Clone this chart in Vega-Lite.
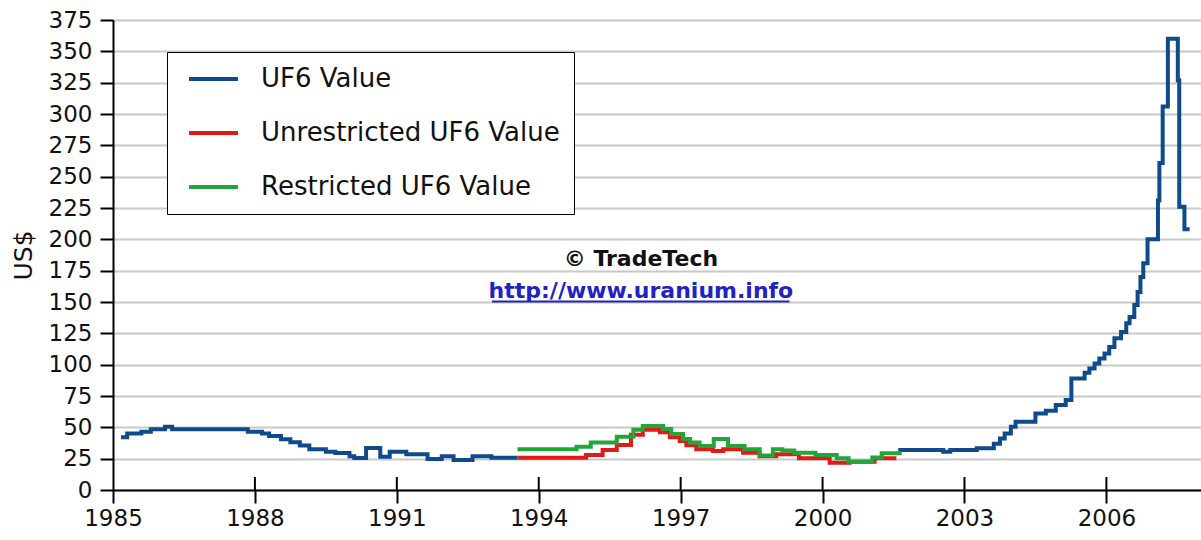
{
  "$schema": "https://vega.github.io/schema/vega-lite/v6.json",
  "width": 1088,
  "height": 470,
  "autosize": {"type": "none"},
  "padding": {"left": 113, "top": 20, "right": 0, "bottom": 50},
  "background": "white",
  "config": {
    "view": {"stroke": null},
    "font": "DejaVu Sans",
    "axisX": {
      "format": "d", "grid": false,
      "domainColor": "black", "domainWidth": 2,
      "tickColor": "black", "tickWidth": 2, "tickSize": 13,
      "labelFont": "DejaVu Sans", "labelFontSize": 23, "labelColor": "#111",
      "labelPadding": 4, "labelFlush": false, "labelOverlap": false
    },
    "axisY": {
      "format": "d",
      "titleFont": "DejaVu Sans", "titleFontSize": 25,
      "titleFontWeight": "normal", "titleColor": "#111", "titlePadding": 12,
      "grid": true, "gridColor": "#c8c8c8", "gridWidth": 2,
      "domainColor": "black", "domainWidth": 2,
      "tickColor": "black", "tickWidth": 2, "tickSize": 13,
      "labelFont": "DejaVu Sans", "labelFontSize": 23, "labelColor": "#111",
      "labelPadding": 8, "labelOverlap": false, "labelFlush": false
    }
  },
  "datasets": {
    "series": [
      {"series": "UF6 Value", "seg": 1, "year": 1985.17, "value": 42},
      {"series": "UF6 Value", "seg": 1, "year": 1985.3, "value": 45},
      {"series": "UF6 Value", "seg": 1, "year": 1985.6, "value": 46.5},
      {"series": "UF6 Value", "seg": 1, "year": 1985.8, "value": 48.5},
      {"series": "UF6 Value", "seg": 1, "year": 1986.1, "value": 50.5},
      {"series": "UF6 Value", "seg": 1, "year": 1986.25, "value": 48.5},
      {"series": "UF6 Value", "seg": 1, "year": 1987.85, "value": 46.5},
      {"series": "UF6 Value", "seg": 1, "year": 1988.15, "value": 45},
      {"series": "UF6 Value", "seg": 1, "year": 1988.3, "value": 43},
      {"series": "UF6 Value", "seg": 1, "year": 1988.55, "value": 40.5},
      {"series": "UF6 Value", "seg": 1, "year": 1988.75, "value": 38},
      {"series": "UF6 Value", "seg": 1, "year": 1988.95, "value": 35.5},
      {"series": "UF6 Value", "seg": 1, "year": 1989.15, "value": 32.5},
      {"series": "UF6 Value", "seg": 1, "year": 1989.5, "value": 30.5},
      {"series": "UF6 Value", "seg": 1, "year": 1989.7, "value": 29.5},
      {"series": "UF6 Value", "seg": 1, "year": 1990.0, "value": 27},
      {"series": "UF6 Value", "seg": 1, "year": 1990.1, "value": 25.5},
      {"series": "UF6 Value", "seg": 1, "year": 1990.35, "value": 33.5},
      {"series": "UF6 Value", "seg": 1, "year": 1990.65, "value": 26.5},
      {"series": "UF6 Value", "seg": 1, "year": 1990.85, "value": 30.5},
      {"series": "UF6 Value", "seg": 1, "year": 1991.2, "value": 28.5},
      {"series": "UF6 Value", "seg": 1, "year": 1991.65, "value": 24.8},
      {"series": "UF6 Value", "seg": 1, "year": 1991.95, "value": 27},
      {"series": "UF6 Value", "seg": 1, "year": 1992.2, "value": 24},
      {"series": "UF6 Value", "seg": 1, "year": 1992.6, "value": 27},
      {"series": "UF6 Value", "seg": 1, "year": 1993.0, "value": 25.8},
      {"series": "UF6 Value", "seg": 1, "year": 1993.55, "value": 25.8},
      {"series": "UF6 Value", "seg": 2, "year": 2001.6, "value": 32},
      {"series": "UF6 Value", "seg": 2, "year": 2002.55, "value": 30.6},
      {"series": "UF6 Value", "seg": 2, "year": 2002.7, "value": 32},
      {"series": "UF6 Value", "seg": 2, "year": 2003.26, "value": 33.3},
      {"series": "UF6 Value", "seg": 2, "year": 2003.62, "value": 37},
      {"series": "UF6 Value", "seg": 2, "year": 2003.75, "value": 41},
      {"series": "UF6 Value", "seg": 2, "year": 2003.85, "value": 45},
      {"series": "UF6 Value", "seg": 2, "year": 2003.98, "value": 50.5},
      {"series": "UF6 Value", "seg": 2, "year": 2004.08, "value": 54.5},
      {"series": "UF6 Value", "seg": 2, "year": 2004.5, "value": 61},
      {"series": "UF6 Value", "seg": 2, "year": 2004.72, "value": 63.3},
      {"series": "UF6 Value", "seg": 2, "year": 2004.93, "value": 67.8},
      {"series": "UF6 Value", "seg": 2, "year": 2005.14, "value": 71.8},
      {"series": "UF6 Value", "seg": 2, "year": 2005.26, "value": 89},
      {"series": "UF6 Value", "seg": 2, "year": 2005.54, "value": 93.6},
      {"series": "UF6 Value", "seg": 2, "year": 2005.64, "value": 97},
      {"series": "UF6 Value", "seg": 2, "year": 2005.75, "value": 101},
      {"series": "UF6 Value", "seg": 2, "year": 2005.85, "value": 105},
      {"series": "UF6 Value", "seg": 2, "year": 2005.96, "value": 109},
      {"series": "UF6 Value", "seg": 2, "year": 2006.06, "value": 114},
      {"series": "UF6 Value", "seg": 2, "year": 2006.17, "value": 121},
      {"series": "UF6 Value", "seg": 2, "year": 2006.31, "value": 126},
      {"series": "UF6 Value", "seg": 2, "year": 2006.42, "value": 133},
      {"series": "UF6 Value", "seg": 2, "year": 2006.49, "value": 138},
      {"series": "UF6 Value", "seg": 2, "year": 2006.59, "value": 147.6},
      {"series": "UF6 Value", "seg": 2, "year": 2006.66, "value": 158},
      {"series": "UF6 Value", "seg": 2, "year": 2006.72, "value": 170},
      {"series": "UF6 Value", "seg": 2, "year": 2006.78, "value": 181},
      {"series": "UF6 Value", "seg": 2, "year": 2006.87, "value": 200},
      {"series": "UF6 Value", "seg": 2, "year": 2007.09, "value": 231},
      {"series": "UF6 Value", "seg": 2, "year": 2007.12, "value": 261},
      {"series": "UF6 Value", "seg": 2, "year": 2007.19, "value": 306},
      {"series": "UF6 Value", "seg": 2, "year": 2007.3, "value": 360},
      {"series": "UF6 Value", "seg": 2, "year": 2007.51, "value": 327},
      {"series": "UF6 Value", "seg": 2, "year": 2007.54, "value": 226},
      {"series": "UF6 Value", "seg": 2, "year": 2007.65, "value": 208},
      {"series": "UF6 Value", "seg": 2, "year": 2007.76, "value": 208},
      {"series": "Unrestricted UF6 Value", "seg": 3, "year": 1993.55, "value": 25.8},
      {"series": "Unrestricted UF6 Value", "seg": 3, "year": 1995.0, "value": 28},
      {"series": "Unrestricted UF6 Value", "seg": 3, "year": 1995.35, "value": 32},
      {"series": "Unrestricted UF6 Value", "seg": 3, "year": 1995.65, "value": 36},
      {"series": "Unrestricted UF6 Value", "seg": 3, "year": 1995.95, "value": 44},
      {"series": "Unrestricted UF6 Value", "seg": 3, "year": 1996.2, "value": 48},
      {"series": "Unrestricted UF6 Value", "seg": 3, "year": 1996.56, "value": 46},
      {"series": "Unrestricted UF6 Value", "seg": 3, "year": 1996.77, "value": 42},
      {"series": "Unrestricted UF6 Value", "seg": 3, "year": 1996.98, "value": 39},
      {"series": "Unrestricted UF6 Value", "seg": 3, "year": 1997.12, "value": 35.7},
      {"series": "Unrestricted UF6 Value", "seg": 3, "year": 1997.33, "value": 32.5},
      {"series": "Unrestricted UF6 Value", "seg": 3, "year": 1997.68, "value": 31.2},
      {"series": "Unrestricted UF6 Value", "seg": 3, "year": 1997.9, "value": 32.5},
      {"series": "Unrestricted UF6 Value", "seg": 3, "year": 1998.32, "value": 29.8},
      {"series": "Unrestricted UF6 Value", "seg": 3, "year": 1998.67, "value": 27},
      {"series": "Unrestricted UF6 Value", "seg": 3, "year": 1999.02, "value": 28.5},
      {"series": "Unrestricted UF6 Value", "seg": 3, "year": 1999.5, "value": 25.3},
      {"series": "Unrestricted UF6 Value", "seg": 3, "year": 2000.15, "value": 21.8},
      {"series": "Unrestricted UF6 Value", "seg": 3, "year": 2000.57, "value": 22.6},
      {"series": "Unrestricted UF6 Value", "seg": 3, "year": 2001.1, "value": 25.3},
      {"series": "Unrestricted UF6 Value", "seg": 3, "year": 2001.56, "value": 25.3},
      {"series": "Restricted UF6 Value", "seg": 4, "year": 1993.55, "value": 32.5},
      {"series": "Restricted UF6 Value", "seg": 4, "year": 1994.8, "value": 34.6},
      {"series": "Restricted UF6 Value", "seg": 4, "year": 1995.1, "value": 37.8},
      {"series": "Restricted UF6 Value", "seg": 4, "year": 1995.65, "value": 42.5},
      {"series": "Restricted UF6 Value", "seg": 4, "year": 1996.0, "value": 48},
      {"series": "Restricted UF6 Value", "seg": 4, "year": 1996.2, "value": 51},
      {"series": "Restricted UF6 Value", "seg": 4, "year": 1996.63, "value": 48.7},
      {"series": "Restricted UF6 Value", "seg": 4, "year": 1996.8, "value": 44.6},
      {"series": "Restricted UF6 Value", "seg": 4, "year": 1997.05, "value": 40.6},
      {"series": "Restricted UF6 Value", "seg": 4, "year": 1997.2, "value": 37.9},
      {"series": "Restricted UF6 Value", "seg": 4, "year": 1997.4, "value": 35.2},
      {"series": "Restricted UF6 Value", "seg": 4, "year": 1997.7, "value": 40.6},
      {"series": "Restricted UF6 Value", "seg": 4, "year": 1998.0, "value": 35.2},
      {"series": "Restricted UF6 Value", "seg": 4, "year": 1998.35, "value": 32.5},
      {"series": "Restricted UF6 Value", "seg": 4, "year": 1998.67, "value": 27.5},
      {"series": "Restricted UF6 Value", "seg": 4, "year": 1998.95, "value": 32.5},
      {"series": "Restricted UF6 Value", "seg": 4, "year": 1999.15, "value": 31.5},
      {"series": "Restricted UF6 Value", "seg": 4, "year": 1999.4, "value": 29.8},
      {"series": "Restricted UF6 Value", "seg": 4, "year": 1999.85, "value": 28},
      {"series": "Restricted UF6 Value", "seg": 4, "year": 2000.3, "value": 25.3},
      {"series": "Restricted UF6 Value", "seg": 4, "year": 2000.55, "value": 22.6},
      {"series": "Restricted UF6 Value", "seg": 4, "year": 2001.05, "value": 26},
      {"series": "Restricted UF6 Value", "seg": 4, "year": 2001.25, "value": 29.3},
      {"series": "Restricted UF6 Value", "seg": 4, "year": 2001.63, "value": 31}
    ],
    "ticks": [
      {"year": 1988}, {"year": 1991}, {"year": 1994}, {"year": 1997},
      {"year": 2000}, {"year": 2003}, {"year": 2006}
    ],
    "credit": [{"year": 1996.16, "value": 178.7, "label": "© TradeTech"}],
    "link": [{"year": 1996.16, "value": 153, "label": "http://www.uranium.info"}],
    "underline": [{"year": 1993.01, "end": 1999.3, "value": 150.3}]
  },
  "layer": [
    {
      "data": {"name": "series"},
      "mark": {"type": "line", "interpolate": "step-after", "strokeWidth": 4, "clip": true},
      "encoding": {
        "x": {
          "field": "year", "type": "quantitative",
          "scale": {"domain": [1985, 2008], "nice": false, "zero": false},
          "axis": {"title": null, "values": [1985, 1988, 1991, 1994, 1997, 2000, 2003, 2006]}
        },
        "y": {
          "field": "value", "type": "quantitative",
          "scale": {"domain": [0, 375], "nice": false},
          "axis": {"title": "US$", "values": [0, 25, 50, 75, 100, 125, 150, 175, 200, 225, 250, 275, 300, 325, 350, 375]}
        },
        "color": {
          "field": "series", "type": "nominal",
          "scale": {
            "domain": ["UF6 Value", "Unrestricted UF6 Value", "Restricted UF6 Value"],
            "range": ["#0f4b8b", "#e01a14", "#22a63c"]
          },
          "legend": {
            "orient": "none", "legendX": 54, "legendY": 32,
            "title": null, "direction": "vertical",
            "symbolType": "M-2.72,0H2.72", "symbolSize": 324, "symbolStrokeWidth": 4,
            "symbolOffset": 19.5,
            "labelFont": "DejaVu Sans", "labelFontSize": 26, "labelColor": "#111",
            "labelOffset": 34.5, "labelLimit": 0,
            "strokeColor": "black", "fillColor": "white",
            "padding": 14, "rowPadding": 28
          }
        },
        "detail": {"field": "seg", "type": "nominal"}
      }
    },
    {
      "data": {"name": "ticks"},
      "mark": {"type": "rule", "color": "black", "strokeWidth": 2},
      "encoding": {
        "x": {"field": "year", "type": "quantitative", "axis": {"title": null, "values": [1985, 1988, 1991, 1994, 1997, 2000, 2003, 2006]}},
        "y": {"datum": 0, "type": "quantitative", "axis": {"title": "US$", "values": [0, 25, 50, 75, 100, 125, 150, 175, 200, 225, 250, 275, 300, 325, 350, 375]}},
        "y2": {"datum": 10.4}
      }
    },
    {
      "data": {"name": "credit"},
      "mark": {"type": "text", "font": "DejaVu Sans", "fontSize": 22, "fontWeight": "bold", "color": "#111", "align": "center", "baseline": "alphabetic"},
      "encoding": {
        "x": {"field": "year", "type": "quantitative", "axis": {"title": null, "values": [1985, 1988, 1991, 1994, 1997, 2000, 2003, 2006]}},
        "y": {"field": "value", "type": "quantitative", "axis": {"title": "US$", "values": [0, 25, 50, 75, 100, 125, 150, 175, 200, 225, 250, 275, 300, 325, 350, 375]}},
        "text": {"field": "label"}
      }
    },
    {
      "data": {"name": "link"},
      "mark": {"type": "text", "font": "DejaVu Sans", "fontSize": 22, "fontWeight": "bold", "color": "#2222c4", "align": "center", "baseline": "alphabetic"},
      "encoding": {
        "x": {"field": "year", "type": "quantitative", "axis": {"title": null, "values": [1985, 1988, 1991, 1994, 1997, 2000, 2003, 2006]}},
        "y": {"field": "value", "type": "quantitative", "axis": {"title": "US$", "values": [0, 25, 50, 75, 100, 125, 150, 175, 200, 225, 250, 275, 300, 325, 350, 375]}},
        "text": {"field": "label"}
      }
    },
    {
      "data": {"name": "underline"},
      "mark": {"type": "rule", "color": "#2222c4", "strokeWidth": 2},
      "encoding": {
        "x": {"field": "year", "type": "quantitative", "axis": {"title": null, "values": [1985, 1988, 1991, 1994, 1997, 2000, 2003, 2006]}},
        "x2": {"field": "end"},
        "y": {"field": "value", "type": "quantitative", "axis": {"title": "US$", "values": [0, 25, 50, 75, 100, 125, 150, 175, 200, 225, 250, 275, 300, 325, 350, 375]}}
      }
    }
  ]
}
